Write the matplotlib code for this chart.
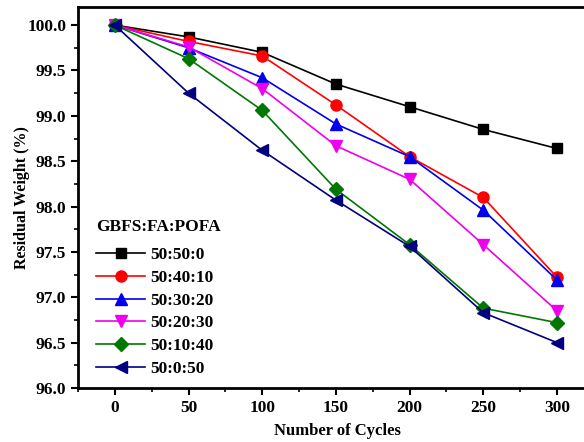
import matplotlib
matplotlib.use("Agg")
from matplotlib import pyplot as plt
from matplotlib.ticker import MultipleLocator

cycles = [0, 50, 100, 150, 200, 250, 300]

mix_50_50_0 = [100.0, 99.87, 99.70, 99.35, 99.10, 98.85, 98.64]
mix_50_40_10 = [100.0, 99.82, 99.66, 99.12, 98.55, 98.10, 97.22]
mix_50_30_20 = [100.0, 99.75, 99.42, 98.91, 98.55, 97.96, 97.19]
mix_50_20_30 = [100.0, 99.76, 99.30, 98.67, 98.30, 97.58, 96.85]
mix_50_10_40 = [100.0, 99.63, 99.06, 98.19, 97.58, 96.88, 96.72]
mix_50_0_50 = [100.0, 99.25, 98.62, 98.07, 97.56, 96.83, 96.50]

labels = ["50:50:0", "50:40:10", "50:30:20", "50:20:30", "50:10:40", "50:0:50"]
series = [mix_50_50_0, mix_50_40_10, mix_50_30_20, mix_50_20_30, mix_50_10_40, mix_50_0_50]
colors = ["black", "red", "#0000ee", "#ee00ee", "#007700", "#000080"]
markers = ["s", "o", "^", "v", "D", "<"]

plt.rcParams["font.family"] = "Liberation Serif"
plt.rcParams["font.weight"] = "bold"

fig = plt.figure(figsize=(5.84, 4.42), dpi=100)
# frame runs past the right edge of the image, as in the original
ax = fig.add_axes([0.1336, 0.1222, 0.93, 0.862])

for vals, lab, c, m in zip(series, labels, colors, markers):
    ms = 7 if m in ("s", "D") else 8
    ax.plot(cycles, vals, color=c, marker=m, markersize=ms, lw=1.2, label=lab)

ax.set_xlim(-25, 343.5)
ax.set_ylim(96.0, 100.2)
ax.xaxis.set_major_locator(MultipleLocator(50))
ax.xaxis.set_minor_locator(MultipleLocator(25))
ax.yaxis.set_major_locator(MultipleLocator(0.5))
ax.yaxis.set_minor_locator(MultipleLocator(0.25))
ax.yaxis.set_major_formatter(plt.FormatStrFormatter("%.1f"))
ax.tick_params(which="major", direction="out", length=5, width=1.5, labelsize=12.5)
ax.tick_params(which="minor", direction="out", length=3, width=1.2)
for s in ax.spines.values():
    s.set_linewidth(2)

ax.set_xlabel("Number of Cycles", fontsize=12, fontweight="bold")
ax.xaxis.set_label_coords(0.477, -0.092)
ax.set_ylabel("Residual Weight (%)", fontsize=11.5, fontweight="bold", labelpad=-2)

leg = ax.legend(loc="lower left", bbox_to_anchor=(0.005, -0.012), frameon=False,
                title="GBFS:FA:POFA", fontsize=12.5, handlelength=2.8,
                handletextpad=0.3, labelspacing=0.38,
                title_fontproperties={"weight": "bold", "size": 12.5})
leg._legend_box.align = "left"
leg._legend_box.sep = 9

plt.savefig("out.png", dpi=100)
